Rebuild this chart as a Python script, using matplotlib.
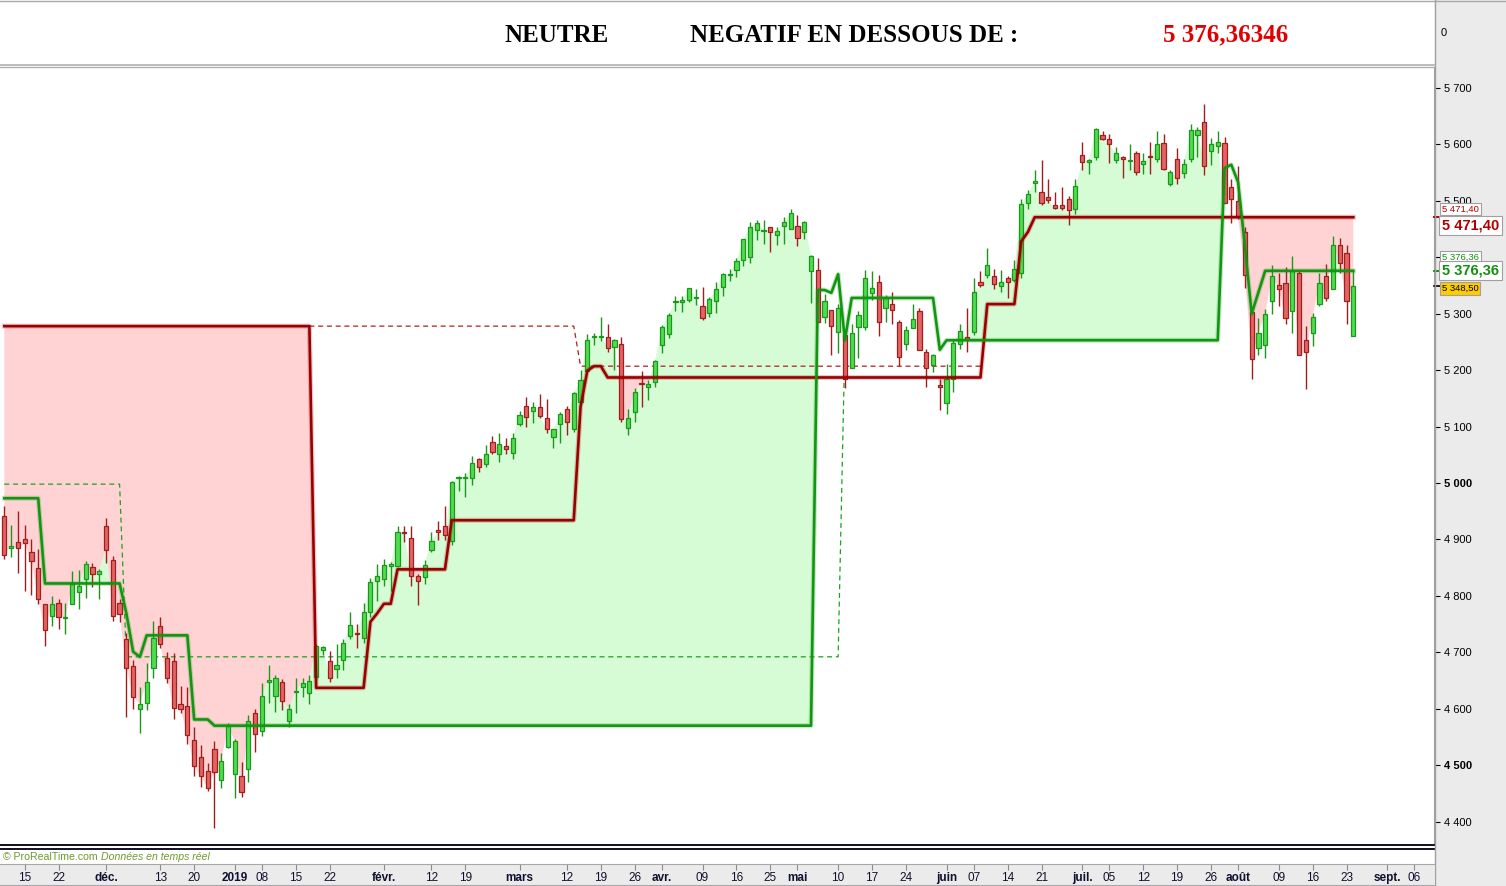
import numpy as np
import pandas as pd
import matplotlib
matplotlib.use("Agg")
import matplotlib.pyplot as plt
import matplotlib.transforms as mtransforms
from matplotlib.lines import Line2D
from matplotlib.patches import Rectangle

plt.rcParams["font.family"] = ["Liberation Sans", "DejaVu Sans"]

# ================= DATA =================

opens = [
    4941, 4884, 4895, 4900, 4877, 4850, 4785, 4765, 4788, 4760,
    4785, 4806, 4829, 4852, 4838, 4923, 4864, 4788, 4724, 4675,
    4600, 4611, 4673, 4747, 4689, 4684, 4609, 4604, 4545, 4514,
    4489, 4529, 4473, 4532, 4485, 4480, 4494, 4592, 4561, 4648,
    4623, 4648, 4579, 4629, 4638, 4627, 4656, 4704, 4684, 4671,
    4687, 4729, 4735, 4726, 4771, 4826, 4829, 4853, 4853, 4914,
    4903, 4836, 4833, 4882, 4916, 4923, 4898, 5009, 5009, 5008,
    5043, 5033, 5072, 5052, 5066, 5054, 5105, 5136, 5128, 5134,
    5116, 5081, 5105, 5132, 5095, 5144, 5199, 5258, 5259, 5258,
    5241, 5246, 5098, 5126, 5177, 5171, 5179, 5245, 5264, 5321,
    5320, 5325, 5328, 5313, 5302, 5322, 5348, 5368, 5377, 5396,
    5401, 5448, 5447, 5453, 5440, 5455, 5451, 5456, 5444, 5375,
    5377, 5295, 5306, 5268, 5262, 5203, 5276, 5277, 5336, 5357,
    5310, 5317, 5285, 5246, 5275, 5304, 5233, 5209, 5173, 5141,
    5184, 5246, 5258, 5267, 5357, 5368, 5366, 5349, 5363, 5359,
    5372, 5496, 5531, 5515, 5506, 5492, 5492, 5504, 5485, 5581,
    5568, 5578, 5617, 5610, 5573, 5577, 5571, 5585, 5566, 5580,
    5575, 5603, 5530, 5575, 5550, 5575, 5617, 5639, 5589, 5598,
    5603, 5525, 5500, 5445, 5303, 5240, 5245, 5323, 5351, 5355,
    5305, 5373, 5254, 5265, 5318, 5367, 5343, 5421, 5408, 5261,
]

highs = [
    4959, 4925, 4950, 4925, 4900, 4883, 4786, 4799, 4794, 4788,
    4844, 4845, 4861, 4858, 4847, 4938, 4870, 4795, 4735, 4686,
    4638, 4681, 4755, 4762, 4700, 4699, 4640, 4638, 4568, 4535,
    4503, 4542, 4522, 4574, 4546, 4506, 4588, 4599, 4646, 4678,
    4659, 4652, 4609, 4655, 4655, 4659, 4715, 4711, 4702, 4714,
    4723, 4771, 4751, 4788, 4831, 4856, 4865, 4860, 4924, 4924,
    4924, 4838, 4864, 4914, 4932, 4960, 5004, 5012, 5017, 5048,
    5044, 5067, 5083, 5089, 5079, 5089, 5128, 5152, 5143, 5157,
    5149, 5095, 5126, 5137, 5161, 5201, 5264, 5265, 5294, 5282,
    5256, 5259, 5131, 5168, 5198, 5183, 5218, 5280, 5301, 5332,
    5331, 5346, 5343, 5348, 5329, 5356, 5372, 5380, 5398, 5433,
    5463, 5466, 5466, 5454, 5454, 5471, 5485, 5475, 5464, 5404,
    5398, 5335, 5307, 5317, 5262, 5281, 5304, 5377, 5376, 5368,
    5333, 5338, 5288, 5279, 5317, 5310, 5237, 5228, 5184, 5210,
    5253, 5281, 5310, 5364, 5375, 5416, 5380, 5377, 5366, 5395,
    5504, 5520, 5554, 5572, 5538, 5515, 5524, 5508, 5538, 5605,
    5575, 5629, 5624, 5619, 5596, 5580, 5601, 5589, 5584, 5605,
    5624, 5619, 5554, 5594, 5575, 5637, 5630, 5671, 5612, 5623,
    5614, 5538, 5562, 5454, 5309, 5293, 5309, 5386, 5373, 5383,
    5403, 5378, 5279, 5302, 5373, 5388, 5437, 5435, 5421, 5375,
]

lows = [
    4865, 4869, 4841, 4809, 4801, 4785, 4711, 4747, 4742, 4732,
    4785, 4776, 4797, 4815, 4794, 4859, 4756, 4754, 4586, 4600,
    4557, 4597, 4655, 4707, 4645, 4582, 4592, 4538, 4481, 4462,
    4455, 4389, 4459, 4530, 4441, 4443, 4471, 4524, 4552, 4611,
    4594, 4597, 4567, 4592, 4621, 4609, 4651, 4695, 4648, 4655,
    4669, 4724, 4707, 4717, 4763, 4791, 4818, 4809, 4851, 4896,
    4818, 4784, 4821, 4878, 4899, 4899, 4890, 4986, 4975, 4997,
    5020, 5029, 5052, 5038, 5051, 5042, 5101, 5100, 5107, 5116,
    5089, 5062, 5071, 5085, 5091, 5142, 5197, 5245, 5252, 5233,
    5200, 5108, 5085, 5108, 5134, 5147, 5170, 5231, 5257, 5305,
    5303, 5321, 5315, 5289, 5295, 5302, 5332, 5358, 5365, 5385,
    5390, 5430, 5424, 5410, 5422, 5423, 5450, 5420, 5433, 5319,
    5285, 5283, 5226, 5231, 5168, 5203, 5221, 5271, 5324, 5261,
    5286, 5281, 5208, 5235, 5274, 5235, 5170, 5196, 5129, 5122,
    5162, 5237, 5233, 5263, 5347, 5363, 5343, 5338, 5327, 5357,
    5363, 5485, 5515, 5492, 5497, 5485, 5483, 5457, 5476, 5554,
    5547, 5572, 5607, 5567, 5567, 5541, 5554, 5545, 5548, 5548,
    5568, 5554, 5527, 5529, 5541, 5568, 5578, 5545, 5564, 5584,
    5497, 5460, 5468, 5346, 5185, 5226, 5222, 5300, 5314, 5281,
    5265, 5226, 5167, 5243, 5314, 5323, 5343, 5373, 5281, 5261,
]

closes = [
    4873, 4888, 4884, 4893, 4861, 4794, 4740, 4785, 4763, 4762,
    4821, 4817, 4856, 4839, 4844, 4882, 4765, 4767, 4673, 4620,
    4609, 4648, 4726, 4714, 4655, 4602, 4599, 4553, 4498, 4480,
    4459, 4487, 4508, 4570, 4542, 4452, 4579, 4556, 4623, 4651,
    4655, 4613, 4600, 4631, 4646, 4650, 4712, 4709, 4655, 4677,
    4716, 4749, 4733, 4772, 4824, 4836, 4854, 4857, 4914, 4911,
    4835, 4827, 4854, 4898, 4913, 4907, 5001, 5011, 5010, 5035,
    5029, 5052, 5055, 5070, 5061, 5079, 5121, 5117, 5134, 5119,
    5095, 5095, 5123, 5108, 5160, 5183, 5254, 5260, 5261, 5240,
    5253, 5114, 5116, 5161, 5175, 5176, 5217, 5276, 5297, 5323,
    5324, 5345, 5329, 5293, 5326, 5343, 5371, 5370, 5393, 5432,
    5453, 5460, 5448, 5444, 5446, 5463, 5479, 5435, 5463, 5403,
    5286, 5322, 5279, 5311, 5185, 5265, 5297, 5363, 5345, 5286,
    5327, 5306, 5223, 5272, 5290, 5235, 5203, 5226, 5170, 5184,
    5248, 5269, 5256, 5338, 5351, 5386, 5352, 5357, 5357, 5379,
    5494, 5512, 5535, 5496, 5501, 5487, 5487, 5483, 5526, 5568,
    5572, 5628, 5610, 5601, 5584, 5575, 5572, 5552, 5571, 5578,
    5600, 5557, 5552, 5541, 5566, 5626, 5626, 5562, 5601, 5605,
    5497, 5504, 5472, 5369, 5219, 5266, 5300, 5367, 5343, 5293,
    5375, 5226, 5233, 5295, 5355, 5327, 5421, 5389, 5323, 5348.5,
]

# indicator lines, one value per bar
red_line = ([5278] * 46 + [4637] * 8 + [4754, 4769, 4786, 4786] + [4847] * 8
            + [4934] * 19 + [5135, 5199, 5207, 5207] + [5187] * 56 + [5317] * 5
            + [5428, 5445] + [5471] * 48)

red_dashed = [np.nan] * 45 + [5278] * 40 + [5207] * 60 + [np.nan] * 55

green_line = ([4973] * 6 + [4822] * 12 + [4769, 4701, 4692] + [4730] * 7
              + [4581] * 3 + [4570] * 89 + [5342, 5342, 5337, 5370, 5253]
              + [5328] * 13 + [5236] + [5253] * 41
              + [5558, 5564, 5533, 5421, 5300, 5338] + [5376] * 14)

green_dashed = [4998] * 18 + [4692] * 106 + [5253] + [np.nan] * 75

holidays = ["2018-12-25", "2018-12-26", "2019-01-01",
            "2019-04-19", "2019-04-22", "2019-05-01"]

tick_dates = [
    "2018-11-15", "2018-11-22", "2018-12-03", "2018-12-13", "2018-12-20",
    "2019-01-02", "2019-01-08", "2019-01-15", "2019-01-22", "2019-02-01",
    "2019-02-12", "2019-02-19", "2019-03-01", "2019-03-12", "2019-03-19",
    "2019-03-26", "2019-04-01", "2019-04-09", "2019-04-16", "2019-04-25",
    "2019-05-02", "2019-05-10", "2019-05-17", "2019-05-24", "2019-06-03",
    "2019-06-07", "2019-06-14", "2019-06-21", "2019-07-01", "2019-07-05",
    "2019-07-12", "2019-07-19", "2019-07-26", "2019-08-01", "2019-08-09",
    "2019-08-16", "2019-08-23", "2019-09-02", "2019-09-06",
]

tick_labels = [
    "15", "22", "déc.", "13", "20", "2019", "08", "15", "22", "févr.",
    "12", "19", "mars", "12", "19", "26", "avr.", "09", "16", "25",
    "mai", "10", "17", "24", "juin", "07", "14", "21", "juil.", "05",
    "12", "19", "26", "août", "09", "16", "23", "sept.", "06",
]

month_labels = ["déc.", "2019", "févr.", "mars", "avr.", "mai",
                "juin", "juil.", "août", "sept."]

price_ticks = list(range(4400, 5800, 100))

# ================= PREP =================

days = pd.bdate_range("2018-11-12", "2019-09-30")
days = days[~days.isin(pd.to_datetime(holidays))]
tick_pos = [days.get_loc(pd.Timestamp(d)) for d in tick_dates]

o = np.array(opens, dtype=float)
h = np.array(highs, dtype=float)
l = np.array(lows, dtype=float)
c = np.array(closes, dtype=float)
red = np.array(red_line, dtype=float)
green = np.array(green_line, dtype=float)
idx = np.arange(len(c))

up = c >= o

# ================= FIGURE =================

W, H = 1506, 886
fig = plt.figure(figsize=(W / 100, H / 100), dpi=100)
fig.patch.set_facecolor("white")


def px_axes(x0, y0, x1, y1):
    return fig.add_axes([x0 / W, 1 - y1 / H, (x1 - x0) / W, (y1 - y0) / H])


def px_line(x0, y0, x1, y1, color, lw=1.0):
    fig.add_artist(Line2D([x0 / W, x1 / W], [1 - y0 / H, 1 - y1 / H],
                          transform=fig.transFigure, color=color, lw=lw))


# grey right scale area
fig.add_artist(Rectangle((1435 / W, 0), 1 - 1435 / W, 1,
                         transform=fig.transFigure, color="#ebebeb", zorder=0))

xlim = (-0.64, 210.9)
ylim = (4358.5, 5737.2)

# ================= TOP PANEL =================

top = px_axes(0, 1, 1434, 64)
top.set_axis_off()

fig.text(557 / W, 1 - 35 / H, "NEUTRE", ha="center", va="center",
         fontsize=18, fontweight="bold", family="Liberation Serif")
fig.text(854 / W, 1 - 35 / H, "NEGATIF EN DESSOUS DE :", ha="center", va="center",
         fontsize=18, fontweight="bold", family="Liberation Serif")
fig.text(1226 / W, 1 - 35 / H, "5 376,36346", ha="center", va="center",
         fontsize=18, fontweight="bold", family="Liberation Serif", color="#e00000")
fig.text(1441 / W, 1 - 33 / H, "0", ha="left", va="center", fontsize=8)

# ================= MAIN PANEL =================

ax = px_axes(0, 67, 1434, 845)
ax.set_xlim(*xlim)
ax.set_ylim(*ylim)

ax.fill_between(idx, red, c, where=c < red, interpolate=True,
                color="#ffd3d3", lw=0, zorder=1)
ax.fill_between(idx, green, c, where=c > green, interpolate=True,
                color="#d5fcd5", lw=0, zorder=1)

ax.plot(idx, red_dashed, color="#b02020", lw=0.9, ls=(0, (4, 3)), zorder=2)
ax.plot(idx, green_dashed, color="#20a020", lw=0.9, ls=(0, (4, 3)), zorder=2)

edge = np.where(up, "#1e961e", "#a01e1e")
face = np.where(up, "#50dc50", "#e46464")

ax.vlines(idx, l, h, colors=edge, lw=1.0, zorder=3)
ax.bar(idx, np.maximum(np.abs(c - o), 2.0), bottom=np.minimum(o, c),
       width=0.62, color=face, edgecolor=edge, linewidth=0.9, zorder=4)

ax.plot(idx, red, color="#9b0000", lw=3.6, alpha=0.22, zorder=5)
ax.plot(idx, red, color="#9b0000", lw=1.9, zorder=6)
ax.plot(idx, green, color="#129612", lw=3.6, alpha=0.22, zorder=5)
ax.plot(idx, green, color="#129612", lw=1.9, zorder=6)

ax.yaxis.tick_right()
ax.set_yticks(price_ticks)
ax.set_yticklabels([f"{p // 1000} {p % 1000:03d}" for p in price_ticks])
ax.tick_params(axis="y", direction="out", length=4, width=0.8, pad=3,
               labelsize=8, colors="black")
for lab, p in zip(ax.get_yticklabels(), price_ticks):
    if p in (5000, 4500):
        lab.set_fontweight("bold")
ax.set_xticks([])

for side in ["left", "top"]:
    ax.spines[side].set_visible(False)
ax.spines["right"].set_color("#a0a0a0")
ax.spines["bottom"].set_color("#101020")
ax.spines["bottom"].set_linewidth(1.4)

# ================= PRICE BOXES =================

blend = mtransforms.blended_transform_factory(ax.transAxes, ax.transData)


def price_box(price, text, color, size, dy, fc="white", weight="normal"):
    ax.annotate(text, xy=(1, price), xycoords=("axes fraction", "data"),
                xytext=(8, dy), textcoords="offset pixels", ha="left", va="center",
                fontsize=size, color=color, fontweight=weight,
                bbox=dict(boxstyle="square,pad=0.18", fc=fc, ec="#a0a0a0", lw=0.8),
                annotation_clip=False, zorder=10)
    ax.add_line(Line2D([1.0, 1.004], [price, price], transform=blend,
                       color=color if fc == "white" else "black",
                       lw=1.2, clip_on=False, zorder=9))


price_box(red[-1], "5 471,40", "#b00000", 6.8, 8)
price_box(red[-1], "5 471,40", "#b00000", 10.5, -8, weight="bold")
price_box(green[-1], "5 376,36", "#109010", 6.8, 14)
price_box(green[-1], "5 376,36", "#109010", 10.5, 0, weight="bold")
price_box(c[-1], "5 348,50", "black", 6.8, -2, fc="#ffcc00")

# ================= DATE AXIS =================

ax_d = px_axes(0, 864, 1434, 885)
ax_d.set_facecolor("#ebebeb")
ax_d.set_xlim(*xlim)
ax_d.set_yticks([])
ax_d.set_xticks(tick_pos)
ax_d.set_xticklabels(tick_labels)
ax_d.tick_params(axis="x", top=True, bottom=False, labeltop=False,
                 labelbottom=True, direction="in", length=4, width=0.8,
                 color="#8c8c8c", labelcolor="#101030", labelsize=8.5, pad=-9.7)
for lab in ax_d.get_xticklabels():
    if lab.get_text() in month_labels:
        lab.set_fontweight("bold")
for side in ["left", "right"]:
    ax_d.spines[side].set_visible(False)
ax_d.spines["top"].set_color("#a8a8a8")
ax_d.spines["bottom"].set_color("#a8a8a8")

# ================= FRAME LINES =================

px_line(0, 0.5, 1506, 0.5, "#a8a8a8")
px_line(0, 64.5, 1434, 64.5, "#b0b0b0", 1.2)
px_line(0, 67, 1434, 67, "#b0b0b0", 1.0)
px_line(0, 849, 1434, 849, "#101020", 1.4)
px_line(1434.5, 0, 1434.5, 886, "#a0a0a0")

fig.text(3 / W, 1 - 857 / H, "© ProRealTime.com", ha="left", va="center",
         fontsize=7.6, color="#6b9a2a")
fig.text(101 / W, 1 - 857 / H, "Données en temps réel", ha="left", va="center",
         fontsize=7.6, color="#6b9a2a", style="italic")

fig.savefig("out.png", dpi=100)
